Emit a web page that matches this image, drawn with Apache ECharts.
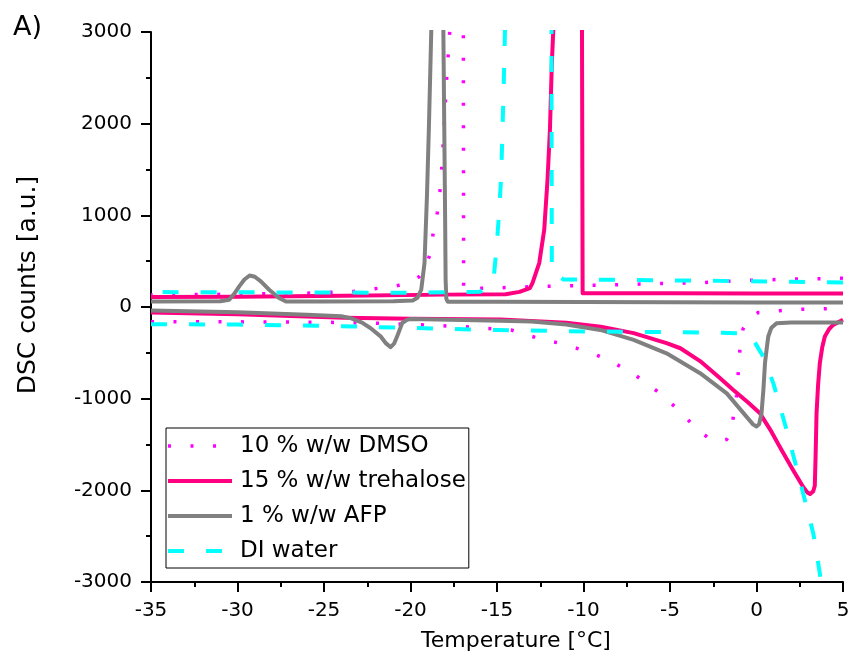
<!DOCTYPE html>
<html>
<head>
<meta charset="utf-8">
<script src="https://cdn.jsdelivr.net/npm/echarts@6/dist/echarts.min.js"></script>
<style>
html,body{margin:0;padding:0;background:#fff;}
#chart{width:854px;height:670px;}
</style>
</head>
<body>
<div id="chart"></div>
<script>
// ---- data: [temperature °C, DSC counts] ----
const seriesNames = ['10 % w/w DMSO', '15 % w/w trehalose', '1 % w/w AFP', 'DI water'];
const xTicks = [-35, -30, -25, -20, -15, -10, -5, 0, 5];
const yTicks = [-3000, -2000, -1000, 0, 1000, 2000, 3000];

const dmsoCooling = [[5,315],[3.4,308],[1.9,304],[-0.8,289],[-3.3,265],[-5.8,255],[-8.3,242],[-10.5,233],[-13,222],[-15,208],[-16.93,200],[-16.95,4000],[-17.7,4000],[-17.73,3010],[-17.9,2520],[-18.05,2010],[-18.12,1750],[-18.2,1500],[-18.3,1260],[-18.45,1030],[-18.7,790],[-18.9,560],[-19.2,407],[-19.5,330],[-19.9,279],[-20.8,230],[-22.2,196],[-23.3,170],[-26,150],[-30,140],[-35,130]];
const dmsoHeating = [[-35,-160],[-30,-162],[-25,-166],[-22,-176],[-19.5,-194],[-17,-213],[-16,-230],[-14.2,-250],[-13.27,-303],[-12.3,-360],[-11.34,-396],[-10.38,-451],[-9.51,-505],[-8.55,-578],[-7.78,-659],[-7.01,-743],[-6.34,-834],[-5.57,-943],[-4.71,-1089],[-3.94,-1235],[-3.36,-1345],[-2.69,-1440],[-2.2,-1468],[-1.72,-1445],[-1.45,-1350],[-1.34,-1199],[-1.15,-962],[-1.05,-706],[-0.96,-469],[-0.78,-240],[-0.6,-180],[-0.3,-110],[0.1,-60],[1.31,-40],[2.66,-25],[3.89,-20],[5,-12]];

const trehaloseCooling = [[5,146],[0,148],[-5,149],[-10.05,150],[-10.1,4000],[-11.7,4000],[-11.75,3005],[-11.83,2660],[-11.94,1933],[-12.08,1388],[-12.27,842],[-12.56,479],[-12.95,261],[-13.1,206],[-13.7,165],[-14.5,140],[-18,135],[-23.8,122],[-30,112],[-35,108]];
const trehaloseHeating = [[-35,-60],[-30,-80],[-23.8,-118],[-20,-128],[-14.8,-135],[-11,-172],[-9,-215],[-7.1,-285],[-5.2,-394],[-4.4,-450],[-3.26,-590],[-2.2,-760],[-1.34,-905],[-0.5,-1040],[0.2,-1160],[0.8,-1340],[1.35,-1527],[2.12,-1781],[2.7,-1963],[2.95,-2025],[3.1,-2040],[3.28,-2010],[3.37,-1950],[3.42,-1600],[3.47,-1162],[3.56,-850],[3.66,-612],[3.8,-440],[3.95,-322],[4.2,-240],[4.43,-195],[5,-140]];

const afpCooling = [[5,48],[0,50],[-5,52],[-10,54],[-15,57],[-17.85,58],[-17.93,90],[-17.97,300],[-18.0,1000],[-18.05,2000],[-18.1,3000],[-18.12,4000],[-18.75,4000],[-18.8,3005],[-18.94,1933],[-19.05,1205],[-19.19,479],[-19.38,188],[-19.6,100],[-19.87,71],[-21,62],[-25,60],[-27.2,60],[-27.6,98],[-28.17,188],[-28.65,279],[-29.0,330],[-29.3,344],[-29.6,300],[-29.9,225],[-30.2,140],[-30.48,80],[-31,62],[-35,60]];
const afpHeating = [[-35,-38],[-30,-58],[-26,-85],[-24,-100],[-23.46,-121],[-22.8,-170],[-22.3,-232],[-21.73,-320],[-21.4,-400],[-21.15,-437],[-20.95,-400],[-20.77,-320],[-20.48,-175],[-20.2,-140],[-20.0,-132],[-17,-142],[-14.8,-150],[-13,-158],[-11,-190],[-9.03,-250],[-7.1,-358],[-5.2,-505],[-3.26,-722],[-1.72,-942],[-0.57,-1199],[-0.2,-1280],[0.0,-1304],[0.15,-1280],[0.29,-1162],[0.4,-900],[0.49,-614],[0.58,-470],[0.68,-322],[0.85,-230],[1.16,-177],[2,-170],[5,-169]];

const waterCooling = [[5,267],[2,275],[-2,285],[-6,293],[-10,300],[-11.16,300],[-11.5,335],[-11.83,370],[-11.86,4000],[-14.45,4000],[-14.54,3005],[-14.58,2661],[-14.64,2224],[-14.69,1860],[-14.77,1388],[-14.88,1024],[-15.02,660],[-15.2,297],[-15.6,206],[-16,165],[-20,155],[-25,158],[-30,160],[-35,163]];
const waterHeating = [[-35,-187],[-30,-192],[-25,-205],[-20,-228],[-15,-252],[-10,-266],[-5,-275],[-2,-280],[-0.86,-288],[-0.3,-322],[0.39,-540],[0.97,-830],[1.74,-1341],[2.5,-1887],[3.28,-2467],[3.66,-2903],[3.75,-3050]];

// ---- styles ----
const FONT = 'DejaVu Sans';
const styles = [
  {color: '#FF00FF', width: 3.5, type: [3, 19.5]},
  {color: '#FF0080', width: 4, type: 'solid'},
  {color: '#808080', width: 4, type: 'solid'},
  {color: '#00FFFF', width: 4, type: [16, 22]}
];
const curves = [
  [dmsoCooling, dmsoHeating],
  [trehaloseCooling, trehaloseHeating],
  [afpCooling, afpHeating],
  [waterCooling, waterHeating]
];

const series = [];
curves.forEach((pair, i) => {
  pair.forEach(d => {
    series.push({
      name: seriesNames[i],
      type: 'line',
      data: d,
      symbol: 'none',
      clip: true,
      silent: true,
      animation: false,
      color: styles[i].color,
      lineStyle: {color: styles[i].color, width: styles[i].width, type: styles[i].type, cap: 'butt', join: 'round'},
      z: 2 + i
    });
  });
});

const chart = echarts.init(document.getElementById('chart'), null, {renderer: 'canvas'});
chart.setOption({
  backgroundColor: '#ffffff',
  animation: false,
  grid: {left: 151, right: 11, top: 32, bottom: 88, containLabel: false, outerBoundsMode: 'none'},
  xAxis: {
    type: 'value', min: xTicks[0], max: xTicks[xTicks.length - 1], interval: 5,
    axisLine: {show: true, onZero: false, lineStyle: {color: '#000', width: 2}},
    axisTick: {show: true, inside: false, length: 10, lineStyle: {color: '#000', width: 2}},
    minorTick: {show: true, splitNumber: 2, length: 5, lineStyle: {color: '#000', width: 2}},
    splitLine: {show: false},
    axisLabel: {color: '#000', fontFamily: FONT, fontSize: 20, margin: 19, formatter: v => String(v)}
  },
  yAxis: {
    type: 'value', min: yTicks[0], max: yTicks[yTicks.length - 1], interval: 1000,
    axisLine: {show: true, onZero: false, lineStyle: {color: '#000', width: 2}},
    axisTick: {show: true, inside: false, length: 10, lineStyle: {color: '#000', width: 2}},
    minorTick: {show: true, splitNumber: 2, length: 5, lineStyle: {color: '#000', width: 2}},
    splitLine: {show: false},
    axisLabel: {color: '#000', fontFamily: FONT, fontSize: 20, margin: 19, formatter: v => String(v)}
  },
  legend: {
    data: seriesNames,
    orient: 'vertical',
    left: 166, top: 428,
    padding: [6, 3, 5, 0],
    itemGap: 11,
    itemWidth: 64, itemHeight: 14,
    borderColor: '#000', borderWidth: 1, borderRadius: 0,
    backgroundColor: '#fff',
    selectedMode: false,
    itemStyle: {opacity: 0, borderWidth: 0},
    lineStyle: {width: 'inherit', type: 'inherit', opacity: 1},
    textStyle: {color: '#000', fontFamily: FONT, fontSize: 23, lineHeight: 24, padding: [0, 0, 0, 3]}
  },
  graphic: [
    {type: 'text', left: 13, top: 14, style: {text: 'A)', font: '27px "DejaVu Sans"', fill: '#000'}},
    {type: 'text', x: 516, y: 641, style: {text: 'Temperature [°C]', font: '22px "DejaVu Sans"', fill: '#000', align: 'center', verticalAlign: 'middle'}},
    {type: 'text', x: 28, y: 285, rotation: Math.PI / 2, style: {text: 'DSC counts [a.u.]', font: '25px "DejaVu Sans"', fill: '#000', align: 'center', verticalAlign: 'middle'}}
  ],
  series: series
});
</script>
</body>
</html>
